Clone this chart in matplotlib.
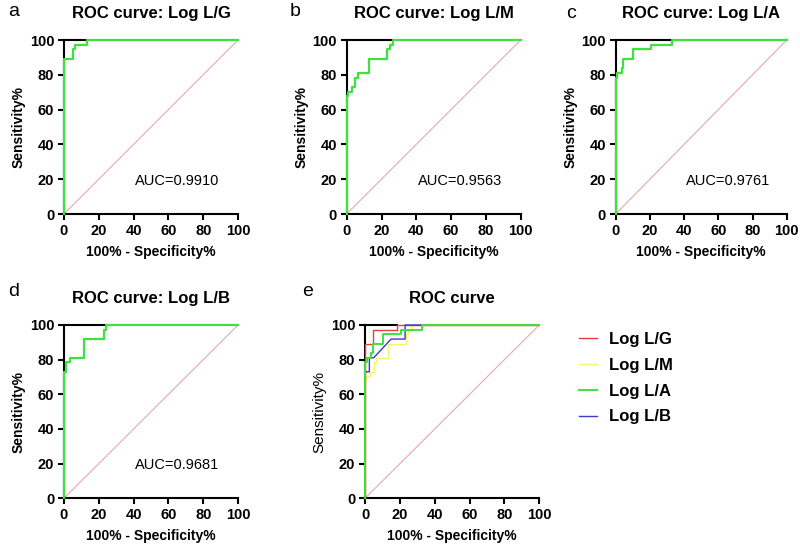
import numpy as np
import matplotlib
matplotlib.use("Agg")
import matplotlib.pyplot as plt

plt.rcParams['font.family'] = ['Liberation Sans', 'DejaVu Sans']

# ROC step curves (100% - specificity, sensitivity)
lg_x = [0, 0, 5.2, 5.2, 6.5, 6.5, 13.2, 13.2, 100]
lg_y = [0, 89.2, 89.2, 94.6, 94.6, 97.3, 97.3, 100, 100]

lm_x = [0, 0, 0.8, 0.8, 3.0, 3.0, 5.0, 5.0, 6.5, 6.5, 13.0, 13.0, 23.4, 23.4, 24.6, 24.6, 26.8, 26.8, 100]
lm_y = [0, 67.6, 67.6, 70.3, 70.3, 73.0, 73.0, 78.4, 78.4, 81.1, 81.1, 89.2, 89.2, 94.6, 94.6, 97.3, 97.3, 100, 100]

la_x = [0, 0, 1.0, 1.0, 3.5, 3.5, 4.5, 4.5, 10.3, 10.3, 20.7, 20.7, 32.7, 32.7, 100]
la_y = [0, 78.4, 78.4, 81.1, 81.1, 83.8, 83.8, 89.2, 89.2, 94.6, 94.6, 97.3, 97.3, 100, 100]

lb_x = [0, 0, 1.0, 1.0, 3.5, 3.5, 11.5, 11.5, 23.0, 23.0, 24.0, 24.0, 100]
lb_y = [0, 73.0, 73.0, 78.4, 78.4, 81.1, 81.1, 91.9, 91.9, 97.3, 97.3, 100, 100]

# panel e versions
e_lg_x = [0, 0, 4.8, 4.8, 18.2, 18.2, 100]
e_lg_y = [0, 89.2, 89.2, 97.3, 97.3, 100, 100]
e_lb_x = [0, 0, 2.5, 2.5, 5.0, 10.0, 15.0, 23.0, 23.0, 100]
e_lb_y = [0, 73.0, 73.0, 81.1, 81.1, 86.5, 91.9, 91.9, 100, 100]

titles = ["ROC curve: Log L/G", "ROC curve: Log L/M", "ROC curve: Log L/A", "ROC curve: Log L/B"]
aucs = ["AUC=0.9910", "AUC=0.9563", "AUC=0.9761", "AUC=0.9681"]
letters = ["a", "b", "c", "d", "e"]
names = ["Log L/G", "Log L/M", "Log L/A", "Log L/B"]

green = "#3fe03f"
diag_col = "#e8a8a8"

W, H = 800, 545
fig = plt.figure(figsize=(8, 5.45), dpi=100)

def px_axes(x0, x1, ytop, ybot):
    return fig.add_axes([x0 / W, 1 - ybot / H, (x1 - x0) / W, (ybot - ytop) / H])

def style(ax, bold_ylabel=True):
    ax.set_xlim(0, 100)
    ax.set_ylim(0, 100)
    ax.set_xticks(np.arange(0, 101, 20))
    ax.set_yticks(np.arange(0, 101, 20))
    for s in ['top', 'right']:
        ax.spines[s].set_visible(False)
    for s in ['left', 'bottom']:
        ax.spines[s].set_linewidth(1.5)
    ax.tick_params(direction='out', length=4, width=1.5, labelsize=10.5, pad=3)
    for lab in ax.get_xticklabels() + ax.get_yticklabels():
        lab.set_fontweight('bold')
    ax.set_xlabel("100% - Specificity%", fontsize=10, fontweight='bold', labelpad=5)
    ax.set_ylabel("Sensitivity%", fontsize=11 if not bold_ylabel else 10,
                  fontweight='bold' if bold_ylabel else 'normal', labelpad=3)
    ax.plot([0, 100], [0, 100], color=diag_col, lw=0.8, zorder=1)

boxes = [(64, 238, 40, 214), (346.7, 520.7, 40, 214), (615.7, 786.7, 40, 214),
         (64, 238, 325, 498.3)]
curves = [(lg_x, lg_y), (lm_x, lm_y), (la_x, la_y), (lb_x, lb_y)]
letter_pos = [(8, 12), (290, 12), (566, 14), (8, 292)]

for i in range(4):
    ax = px_axes(*boxes[i])
    style(ax)
    cx, cy = curves[i]
    reach = cx[cy.index(100)]
    ax.plot([0, reach], [100, 100], color='black', lw=1.5, zorder=2, clip_on=False)
    ax.plot(cx, cy, color=green, lw=1.6, zorder=3, clip_on=False)
    ax.set_title(titles[i], fontsize=12, fontweight='bold', pad=16)
    ax.text(41, 19, aucs[i], fontsize=10.5, va='center', ha='left')
    fig.text(letter_pos[i][0] / W, 1 - letter_pos[i][1] / H, letters[i], fontsize=14,
             va='center', ha='left')

# panel e: all curves
ax = px_axes(365, 539.3, 325, 498.3)
style(ax, bold_ylabel=False)
ax.plot([0, 18.2], [100, 100], color='black', lw=1.5, zorder=2, clip_on=False)
l1, = ax.plot(e_lg_x, e_lg_y, color="#e04040", lw=1.0, zorder=4, clip_on=False, label=names[0])
l2, = ax.plot(lm_x, lm_y, color="#f4f46a", lw=1.0, zorder=3, clip_on=False, label=names[1])
l3, = ax.plot(la_x, la_y, color=green, lw=1.4, zorder=5, clip_on=False, label=names[2])
l4, = ax.plot(e_lb_x, e_lb_y, color="#3a3ad0", lw=1.0, zorder=4, clip_on=False, label=names[3])
ax.set_title("ROC curve", fontsize=12, fontweight='bold', pad=16)
fig.text(302 / W, 1 - 292 / H, letters[4], fontsize=14, va='center', ha='left')

leg = fig.legend(handles=[l1, l2, l3, l4], loc='upper left',
                 bbox_to_anchor=(564 / W, 1 - 317 / H), frameon=False,
                 prop={'size': 12, 'weight': 'bold'}, handlelength=1.08,
                 handletextpad=0.72, labelspacing=0.65)

fig.savefig("out.png", dpi=100)
